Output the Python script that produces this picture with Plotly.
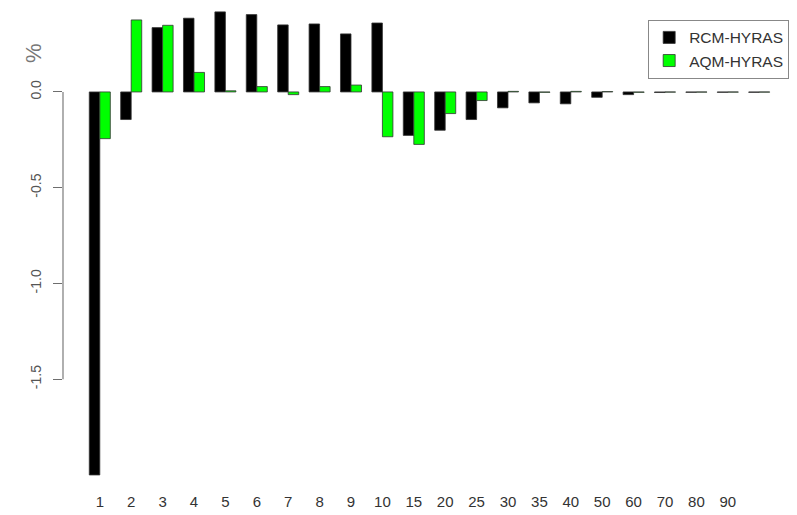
import plotly.graph_objects as go

# ---- data ----
tick_labels = ["1", "2", "3", "4", "5", "6", "7", "8", "9", "10",
               "15", "20", "25", "30", "35", "40", "50", "60", "70", "80", "90", ""]
positions = list(range(len(tick_labels)))
rcm_hyras = [-2.00, -0.144, 0.336, 0.385, 0.418, 0.404, 0.350, 0.355, 0.303, 0.360,
             -0.227, -0.200, -0.144, -0.083, -0.057, -0.062, -0.028, -0.014,
             -0.003, -0.002, -0.002, -0.002]
aqm_hyras = [-0.244, 0.376, 0.348, 0.102, 0.006, 0.028, -0.014, 0.028, 0.036, -0.234,
             -0.274, -0.113, -0.045, 0.003, -0.002, 0.003, 0.002, -0.002,
             -0.001, -0.001, -0.001, -0.001]
y_ticks = [0.0, -0.5, -1.0, -1.5]
y_tick_text = ["0.0", "-0.5", "-1.0", "-1.5"]

FONT = "Liberation Sans, Arial, sans-serif"
AXIS_GREY = "#6e6e6e"

fig = go.Figure()
fig.add_trace(go.Bar(x=positions, y=rcm_hyras, name="RCM-HYRAS",
                     marker=dict(color="#000000", line=dict(color="#333333", width=0.8))))
fig.add_trace(go.Bar(x=positions, y=aqm_hyras, name="AQM-HYRAS",
                     marker=dict(color="#00ff00", line=dict(color="#333333", width=0.8))))

# R-style y axis line spanning only the tick range
fig.add_shape(type="line", xref="paper", yref="y", x0=0, x1=0,
              y0=min(y_ticks), y1=max(y_ticks), layer="above",
              line=dict(color=AXIS_GREY, width=1.1))

fig.add_annotation(text="%", xref="paper", yref="paper", x=-0.041, y=0.900,
                   xanchor="center", yanchor="middle",
                   showarrow=False, textangle=-90,
                   font=dict(family=FONT, size=22, color="#777777"))

fig.update_layout(
    width=797, height=515,
    margin=dict(l=63, r=10, t=5, b=30),
    paper_bgcolor="white", plot_bgcolor="white",
    barmode="group", bargap=0.33, bargroupgap=0,
    showlegend=True,
    legend=dict(x=1.003, xanchor="right", y=0.969, yanchor="top",
                bordercolor="#888888", borderwidth=1, bgcolor="white",
                font=dict(family=FONT, size=15.5, color="#333333"),
                traceorder="normal"),
    xaxis=dict(range=[-1.172, 21.885], tickmode="array", tickvals=positions,
               ticktext=tick_labels, showline=False, showgrid=False,
               zeroline=False, ticks="", ticklabelstandoff=8,
               tickfont=dict(family=FONT, size=15, color="#333333")),
    yaxis=dict(range=[-2.042, 0.454], tickmode="array", tickvals=y_ticks,
               ticktext=y_tick_text, showline=False, showgrid=False,
               zeroline=False, ticks="outside", ticklen=9, tickcolor=AXIS_GREY,
               tickwidth=1.1, tickangle=-90, ticklabelstandoff=6,
               tickfont=dict(family=FONT, size=14, color="#555555")),
)

fig.write_html("out.html")
